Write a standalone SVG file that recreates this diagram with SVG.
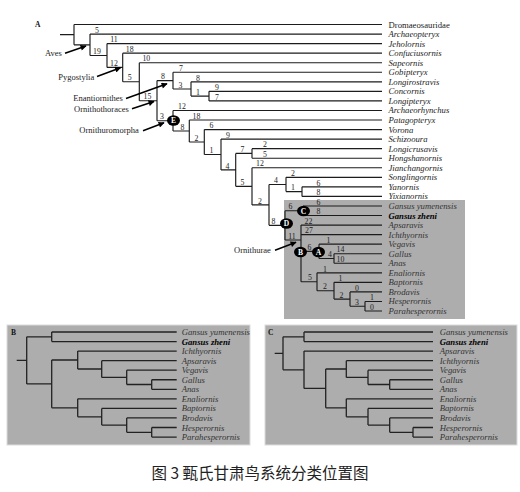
<svg xmlns="http://www.w3.org/2000/svg" width="520" height="492" viewBox="0 0 520 492">
<defs>
<style>
.ln{fill:none;stroke:#1c1c1c;stroke-width:1.15}
.lnb{fill:none;stroke:#222;stroke-width:1.3}
.tx{font-family:"Liberation Serif","Times New Roman",serif;font-size:8.7px;fill:#1c1c1c;font-style:italic}
.txg{font-family:"Liberation Serif","Times New Roman",serif;font-size:8.7px;fill:#333;font-style:italic}
.bold{font-weight:bold;fill:#000}
.up{font-style:normal}
.num{font-family:"Liberation Serif","Times New Roman",serif;font-size:7.8px;fill:#1c1c1c;text-anchor:middle}
.cl{font-family:"Liberation Serif","Times New Roman",serif;font-size:8.5px;fill:#1c1c1c}
.arr{fill:none;stroke:#000;stroke-width:1.5}
.pl{font-family:"Liberation Serif","Times New Roman",serif;font-size:7.5px;font-weight:bold;fill:#111}
.nd{fill:#000}
.ndt{font-family:"Liberation Serif","Times New Roman",serif;font-size:7.5px;font-weight:bold;fill:#fff;text-anchor:middle}
.box{fill:#adadad}
.pbox{fill:#adadad;stroke:#dcdcdc;stroke-width:1}
</style>
<marker id="ah" viewBox="0 0 10 10" refX="9" refY="5" markerWidth="7" markerHeight="6" markerUnits="userSpaceOnUse" orient="auto">
<path d="M0 0L10 5L0 10z" fill="#000"/>
</marker>
</defs>
<rect width="520" height="492" fill="#fff"/>

<!-- Panel A -->
<rect class="box" x="284" y="200" width="181" height="119"/>
<text class="pl" x="35" y="27">A</text>

<g id="connectors-A">
<path class="ln" d="M60 34.6H74 M74 24.5V44.8 M74 24.5H382 M74 44.8H90
M90 34.05V55.5 M90 34.05H382 M90 55.5H107
M107 43.6V67.4 M107 43.6H382 M107 67.4H122.7
M122.7 53.15V81.7 M122.7 53.15H382 M122.7 81.7H139.3
M139.3 62.7V100.7 M139.3 62.7H382 M139.3 100.7H157
M157 80.6V120.7 M157 80.6H173 M157 120.7H173
M173 72.25V89 M173 72.25H382 M173 89H191
M191 81.8V96.1 M191 81.8H382 M191 96.1H209
M209 91.35V100.9 M209 91.35H382 M209 100.9H382
M173 110.45V131 M173 110.45H382 M173 131H189.3
M189.3 120V142 M189.3 120H382 M189.3 142H204.3
M204.3 129.55V154.5 M204.3 129.55H382 M204.3 154.5H221
M221 139.1V169.9 M221 139.1H382 M221 169.9H235.7
M235.7 153.4V186.3 M235.7 153.4H252 M235.7 186.3H252
M252 148.65V158.2 M252 148.65H382 M252 158.2H382
M252 167.75V204.9 M252 167.75H382 M252 204.9H269
M269 184.5V225.35 M269 184.5H286 M269 225.35H285
M286 177.3V191.6 M286 177.3H382 M286 191.6H302
M302 186.85V196.4 M302 186.85H382 M302 196.4H382
M285 210.7V240 M285 210.7H303 M285 240H301
M303 205.95V215.5 M303 205.95H382 M303 215.5H382
M301 225.05V281.75 M301 225.05H382 M301 234.6H382 M301 251.3H319 M301 281.75H317
M319 244.15V258.5 M319 244.15H382 M319 258.5H334
M334 253.7V263.25 M334 253.7H382 M334 263.25H382
M317 272.8V290.7 M317 272.8H382 M317 290.7H334
M334 282.35V299.05 M334 282.35H382 M334 299.05H350
M350 291.9V306.2 M350 291.9H382 M350 306.2H365
M365 301.45V311 M365 301.45H382 M365 311H382"/>
<g id="support-values">
<text class="num" x="97" y="32.8">5</text>
<text class="num" x="97" y="54.2">19</text>
<text class="num" x="114" y="42.3">11</text>
<text class="num" x="114" y="66.1">12</text>
<text class="num" x="129.7" y="51.9">18</text>
<text class="num" x="129.7" y="80.4">5</text>
<text class="num" x="146.3" y="61.4">10</text>
<text class="num" x="147.5" y="99.4">15</text>
<text class="num" x="163" y="79.3">8</text>
<text class="num" x="162" y="119.4">3</text>
<text class="num" x="181" y="71">7</text>
<text class="num" x="180.5" y="87.7">3</text>
<text class="num" x="198" y="80.5">8</text>
<text class="num" x="198" y="94.8">1</text>
<text class="num" x="217" y="90">9</text>
<text class="num" x="217" y="99.6">7</text>
<text class="num" x="182" y="109.1">12</text>
<text class="num" x="182.5" y="129.7">8</text>
<text class="num" x="196.5" y="118.7">18</text>
<text class="num" x="196.5" y="140.7">2</text>
<text class="num" x="211.5" y="128.2">6</text>
<text class="num" x="211.5" y="153.2">1</text>
<text class="num" x="228" y="137.8">9</text>
<text class="num" x="227.5" y="168.6">4</text>
<text class="num" x="242.5" y="152.1">7</text>
<text class="num" x="242.5" y="185">5</text>
<text class="num" x="265" y="147.3">2</text>
<text class="num" x="265" y="156.9">5</text>
<text class="num" x="260" y="166.4">12</text>
<text class="num" x="260" y="203.6">2</text>
<text class="num" x="276" y="183.2">4</text>
<text class="num" x="273.5" y="224">8</text>
<text class="num" x="293" y="176">2</text>
<text class="num" x="293" y="190.3">1</text>
<text class="num" x="318.5" y="185.5">6</text>
<text class="num" x="318.5" y="195.1">8</text>
<text class="num" x="290.5" y="209.4">6</text>
<text class="num" x="292" y="238.7">11</text>
<text class="num" x="318.5" y="204.6">6</text>
<text class="num" x="318.5" y="214.2">8</text>
<text class="num" x="308.5" y="223.7">22</text>
<text class="num" x="309" y="233.3">27</text>
<text class="num" x="309.5" y="250">6</text>
<text class="num" x="310" y="280.4">5</text>
<text class="num" x="328.5" y="242.8">1</text>
<text class="num" x="330" y="257.2">4</text>
<text class="num" x="340.5" y="252.4">14</text>
<text class="num" x="340.5" y="262">10</text>
<text class="num" x="325" y="271.5">1</text>
<text class="num" x="325" y="289.4">2</text>
<text class="num" x="340.5" y="281">1</text>
<text class="num" x="341.5" y="297.7">2</text>
<text class="num" x="357" y="290.6">0</text>
<text class="num" x="357" y="304.9">3</text>
<text class="num" x="372" y="300.1">1</text>
<text class="num" x="372" y="309.7">0</text>
</g>
<g id="clade-arrows">
<path class="arr" d="M65 53.3L86 46" marker-end="url(#ah)"/>
<path class="arr" d="M97 76.5L120.5 67.8" marker-end="url(#ah)"/>
<path class="arr" d="M126 98.5L167 83.8" marker-end="url(#ah)"/>
<path class="arr" d="M132 108.8L154 101.5" marker-end="url(#ah)"/>
<path class="arr" d="M143 130.8L164 122.8" marker-end="url(#ah)"/>
<path class="arr" d="M275 250.3L296 242.3" marker-end="url(#ah)"/>
</g>
</g>

<g id="clade-labels">
<text class="cl" x="45" y="56.2">Aves</text>
<text class="cl" x="58.3" y="79.6">Pygostylia</text>
<text class="cl" x="73.3" y="101.3">Enantiornithes</text>
<text class="cl" x="74" y="112.3">Ornithothoraces</text>
<text class="cl" x="79.3" y="133">Ornithuromorpha</text>
<text class="cl" x="234" y="253">Ornithurae</text>
</g>

<g id="node-E"><ellipse class="nd" cx="173.5" cy="120.5" rx="6.5" ry="5.2"/><text class="ndt" x="173.5" y="123.2">E</text></g>
<g id="node-C"><ellipse class="nd" cx="303.5" cy="211" rx="6.5" ry="5.2"/><text class="ndt" x="303.5" y="213.7">C</text></g>
<g id="node-D"><ellipse class="nd" cx="286.5" cy="223.5" rx="6.5" ry="5.2"/><text class="ndt" x="286.5" y="226.2">D</text></g>
<g id="node-B"><ellipse class="nd" cx="300.5" cy="252" rx="6.5" ry="5.2"/><text class="ndt" x="300.5" y="254.7">B</text></g>
<g id="node-A"><ellipse class="nd" cx="318.5" cy="252" rx="6.5" ry="5.2"/><text class="ndt" x="318.5" y="254.7">A</text></g>

<g id="taxa-A">
<g id="a-dromaeosauridae"><text class="tx up" x="388.5" y="27.5">Dromaeosauridae</text></g>
<g id="a-archaeopteryx"><text class="tx" x="388.5" y="37.05">Archaeopteryx</text></g>
<g id="a-jeholornis"><text class="tx" x="388.5" y="46.6">Jeholornis</text></g>
<g id="a-confuciusornis"><text class="tx" x="388.5" y="56.15">Confuciusornis</text></g>
<g id="a-sapeornis"><text class="tx" x="388.5" y="65.7">Sapeornis</text></g>
<g id="a-gobipteryx"><text class="tx" x="388.5" y="75.25">Gobipteryx</text></g>
<g id="a-longirostravis"><text class="tx" x="388.5" y="84.8">Longirostravis</text></g>
<g id="a-concornis"><text class="tx" x="388.5" y="94.35">Concornis</text></g>
<g id="a-longipteryx"><text class="tx" x="388.5" y="103.9">Longipteryx</text></g>
<g id="a-archaeorhynchus"><text class="tx" x="388.5" y="113.45">Archaeorhynchus</text></g>
<g id="a-patagopteryx"><text class="tx" x="388.5" y="123">Patagopteryx</text></g>
<g id="a-vorona"><text class="tx" x="388.5" y="132.55">Vorona</text></g>
<g id="a-schizooura"><text class="tx" x="388.5" y="142.1">Schizooura</text></g>
<g id="a-longicrusavis"><text class="tx" x="388.5" y="151.65">Longicrusavis</text></g>
<g id="a-hongshanornis"><text class="tx" x="388.5" y="161.2">Hongshanornis</text></g>
<g id="a-jianchangornis"><text class="tx" x="388.5" y="170.75">Jianchangornis</text></g>
<g id="a-songlingornis"><text class="tx" x="388.5" y="180.3">Songlingornis</text></g>
<g id="a-yanornis"><text class="tx" x="388.5" y="189.85">Yanornis</text></g>
<g id="a-yixianornis"><text class="tx" x="388.5" y="199.4">Yixianornis</text></g>
<g id="a-gansus-yumenensis"><text class="txg" x="388.5" y="208.95">Gansus yumenensis</text></g>
<g id="a-gansus-zheni"><text class="txg bold" x="388.5" y="218.5">Gansus zheni</text></g>
<g id="a-apsaravis"><text class="txg" x="388.5" y="228.05">Apsaravis</text></g>
<g id="a-ichthyornis"><text class="txg" x="388.5" y="237.6">Ichthyornis</text></g>
<g id="a-vegavis"><text class="txg" x="388.5" y="247.15">Vegavis</text></g>
<g id="a-gallus"><text class="txg" x="388.5" y="256.7">Gallus</text></g>
<g id="a-anas"><text class="txg" x="388.5" y="266.25">Anas</text></g>
<g id="a-enaliornis"><text class="txg" x="388.5" y="275.8">Enaliornis</text></g>
<g id="a-baptornis"><text class="txg" x="388.5" y="285.35">Baptornis</text></g>
<g id="a-brodavis"><text class="txg" x="388.5" y="294.9">Brodavis</text></g>
<g id="a-hesperornis"><text class="txg" x="388.5" y="304.45">Hesperornis</text></g>
<g id="a-parahesperornis"><text class="txg" x="388.5" y="314">Parahesperornis</text></g>
</g>

<!-- Panel B -->
<rect class="pbox" x="7" y="325" width="243" height="120"/>
<text class="pl" x="11" y="334.5">B</text>
<g id="connectors-B">
<path class="lnb" d="M16.7 360.3H26.7 M26.7 336.8V383.9 M26.7 336.8H51.7 M26.7 383.9H51.7
M51.7 332V341.55 M51.7 332H176.7 M51.7 341.55H176.7
M51.7 360V407.8 M51.7 360H77.7 M51.7 407.8H77.7
M77.7 351.1V369 M77.7 351.1H176.7 M77.7 369H101.7
M101.7 360.65V377.4 M101.7 360.65H176.7 M101.7 377.4H126.7
M126.7 370.2V384.5 M126.7 370.2H176.7 M126.7 384.5H151.7
M151.7 379.75V389.3 M151.7 379.75H176.7 M151.7 389.3H176.7
M77.7 398.85V416.8 M77.7 398.85H176.7 M77.7 416.8H101.7
M101.7 408.4V425.1 M101.7 408.4H176.7 M101.7 425.1H126.7
M126.7 417.95V432.3 M126.7 417.95H176.7 M126.7 432.3H151.7
M151.7 427.5V437.05 M151.7 427.5H176.7 M151.7 437.05H176.7"/>
</g>
<g id="taxa-B">
<g id="b-gansus-yumenensis"><text class="txg" x="181.7" y="335">Gansus yumenensis</text></g>
<g id="b-gansus-zheni"><text class="txg bold" x="181.7" y="344.55">Gansus zheni</text></g>
<g id="b-ichthyornis"><text class="txg" x="181.7" y="354.1">Ichthyornis</text></g>
<g id="b-apsaravis"><text class="txg" x="181.7" y="363.65">Apsaravis</text></g>
<g id="b-vegavis"><text class="txg" x="181.7" y="373.2">Vegavis</text></g>
<g id="b-gallus"><text class="txg" x="181.7" y="382.75">Gallus</text></g>
<g id="b-anas"><text class="txg" x="181.7" y="392.3">Anas</text></g>
<g id="b-enaliornis"><text class="txg" x="181.7" y="401.85">Enaliornis</text></g>
<g id="b-baptornis"><text class="txg" x="181.7" y="411.4">Baptornis</text></g>
<g id="b-brodavis"><text class="txg" x="181.7" y="420.95">Brodavis</text></g>
<g id="b-hesperornis"><text class="txg" x="181.7" y="430.5">Hesperornis</text></g>
<g id="b-parahesperornis"><text class="txg" x="181.7" y="440.05">Parahesperornis</text></g>
</g>

<!-- Panel C -->
<rect class="pbox" x="265" y="325" width="252" height="120"/>
<text class="pl" x="268" y="334.5">C</text>
<g id="connectors-C">
<path class="lnb" d="M274.7 353.3H283 M283 336.8V369.8 M283 336.8H304 M283 369.8H304
M304 332V341.55 M304 332H433 M304 341.55H433
M304 351.1V388.4 M304 351.1H433 M304 388.4H325.7
M325.7 369V407.8 M325.7 369H346.3 M325.7 407.8H346.3
M346.3 360.65V377.4 M346.3 360.65H433 M346.3 377.4H368
M368 370.2V384.5 M368 370.2H433 M368 384.5H389.7
M389.7 379.75V389.3 M389.7 379.75H433 M389.7 389.3H433
M346.3 398.85V416.8 M346.3 398.85H433 M346.3 416.8H368
M368 408.4V425.1 M368 408.4H433 M368 425.1H389.7
M389.7 417.95V432.3 M389.7 417.95H433 M389.7 432.3H413
M413 427.5V437.05 M413 427.5H433 M413 437.05H433"/>
</g>
<g id="taxa-C">
<g id="c-gansus-yumenensis"><text class="txg" x="439.7" y="335">Gansus yumenensis</text></g>
<g id="c-gansus-zheni"><text class="txg bold" x="439.7" y="344.55">Gansus zheni</text></g>
<g id="c-apsaravis"><text class="txg" x="439.7" y="354.1">Apsaravis</text></g>
<g id="c-ichthyornis"><text class="txg" x="439.7" y="363.65">Ichthyornis</text></g>
<g id="c-vegavis"><text class="txg" x="439.7" y="373.2">Vegavis</text></g>
<g id="c-gallus"><text class="txg" x="439.7" y="382.75">Gallus</text></g>
<g id="c-anas"><text class="txg" x="439.7" y="392.3">Anas</text></g>
<g id="c-enaliornis"><text class="txg" x="439.7" y="401.85">Enaliornis</text></g>
<g id="c-baptornis"><text class="txg" x="439.7" y="411.4">Baptornis</text></g>
<g id="c-brodavis"><text class="txg" x="439.7" y="420.95">Brodavis</text></g>
<g id="c-hesperornis"><text class="txg" x="439.7" y="430.5">Hesperornis</text></g>
<g id="c-parahesperornis"><text class="txg" x="439.7" y="440.05">Parahesperornis</text></g>
</g>

<text x="260" y="478.5" text-anchor="middle" font-family="'Noto Sans CJK SC','Noto Sans',sans-serif" font-size="15.5" fill="#222">图 3 甄氏甘肃鸟系统分类位置图</text>
</svg>
